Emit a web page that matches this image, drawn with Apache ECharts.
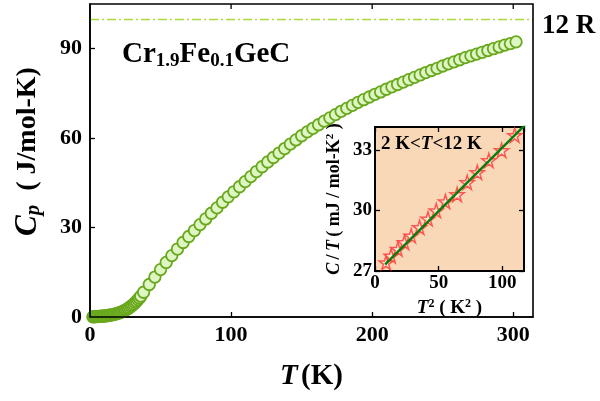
<!DOCTYPE html>
<html>
<head>
<meta charset="utf-8">
<script src="https://cdn.jsdelivr.net/npm/echarts@6/dist/echarts.min.js"></script>
<style>
  html, body { margin: 0; padding: 0; background: #fff; }
  #chart { width: 600px; height: 401px; }
</style>
</head>
<body>
<div id="chart"></div>
<script>
// Specific heat of Cr1.9Fe0.1GeC versus temperature
const temperatureK = [
  2, 3, 4, 5, 6, 7, 8, 9, 10, 11, 12, 13, 14, 15, 16, 17, 18, 19, 20,
  21, 22, 23, 24, 25, 26, 27, 28, 29, 30, 31, 32, 33, 34, 35, 36,
  38, 42, 46, 50, 54, 58, 62, 66, 70, 74, 78, 82, 86, 90, 94, 98,
  102, 106, 110, 114, 118, 122, 126, 130, 134, 138, 142, 146, 150,
  154, 158, 162, 166, 170, 174, 178, 182, 186, 190, 194, 198, 202,
  206, 210, 214, 218, 222, 226, 230, 234, 238, 242, 246, 250, 254,
  258, 262, 266, 270, 274, 278, 282, 286, 290, 294, 298, 302
];
const heatCapacity = [
  0.05, 0.08, 0.11, 0.14, 0.18, 0.22, 0.26, 0.29, 0.33, 0.38, 0.44, 0.51, 0.59, 0.68, 0.78, 0.89, 1.01, 1.14, 1.28,
  1.45, 1.63, 1.83, 2.05, 2.3, 2.57, 2.87, 3.2, 3.56, 3.95, 4.37, 4.82, 5.3, 5.82, 6.38, 6.98,
  8.3, 10.9, 13.4, 15.9, 18.3, 20.6, 22.8, 25.0, 27.0, 29.0, 31.0, 32.9, 34.8, 36.6, 38.5, 40.3,
  42.0, 43.7, 45.4, 47.1, 48.8, 50.4, 52.0, 53.5, 55.0, 56.5, 58.0, 59.4, 60.8,
  62.1, 63.3, 64.5, 65.7, 66.8, 67.9, 69.0, 70.0, 71.0, 72.0, 72.9, 73.8, 74.7,
  75.5, 76.4, 77.2, 78.0, 78.8, 79.6, 80.4, 81.2, 82.0, 82.7, 83.4, 84.2, 84.9,
  85.6, 86.3, 87.0, 87.6, 88.2, 88.8, 89.4, 90.0, 90.6, 91.2, 91.7, 92.3
];
// Dulong–Petit limit 3NR (N = 4 atoms per formula unit), drawn across the full T range
const limitT = [0, 314];
const limitCp = [99.8, 99.8];

// Low-temperature C/T against T^2 (2 K < T < 12 K)
const tSquared = [8.7, 12.6, 17.9, 23.1, 28.4, 35.0, 41.6, 48.1, 55.3, 64.5, 72.4, 80.3, 89.4, 99.4, 109.7];
const cOverT = [27.42, 27.75, 28.09, 28.42, 28.75, 29.17, 29.59, 30.0, 30.45, 30.8, 31.4, 31.9, 32.49, 32.99, 33.74];
// Linear fit C/T = gamma + beta*T^2
const fitT2 = [8, 118];
const fitCT = [27.33, 34.26];

// Axis ranges and tick values of the main panel
const tMax = 314;
const cpMax = 105;
const tTicks = [100, 200, 300];

const serif = '"Liberation Serif", "DejaVu Serif", serif';
const starPath = 'path://M50,0 L61,35 L98,35 L68,57 L79,91 L50,70 L21,91 L32,57 L2,35 L39,35 Z';

const chart = echarts.init(document.getElementById('chart'), null, { renderer: 'canvas' });

// fresh style objects for every axis
const axisLine = (w) => ({ show: true, onZero: false, lineStyle: { color: '#000', width: w } });
const tick = () => ({ show: true, inside: true, length: 5, lineStyle: { color: '#000', width: 1.3 } });
const noLabel = () => ({ show: false });
const noSplit = () => ({ show: false });

chart.setOption({
  animation: false,
  backgroundColor: '#fff',
  grid: [
    { left: 90, right: 67, top: 4, bottom: 84, show: false, outerBoundsMode: 'none' },
    { left: 375, top: 127, width: 149, height: 144, show: true, outerBoundsMode: 'none',
      backgroundColor: '#f9d8b8', borderColor: '#000', borderWidth: 2 }
  ],
  xAxis: [
    {
      gridIndex: 0, type: 'value', position: 'bottom', min: 0, max: tMax, interval: 100,
      axisLine: axisLine(1.6), axisTick: tick(), splitLine: noSplit(),
      axisLabel: { color: '#000', fontFamily: serif, fontWeight: 'bold', fontSize: 22, margin: 7, showMaxLabel: false },
      name: '{i|T} {n|(K)}', nameLocation: 'middle', nameGap: 45,
      nameTextStyle: {
        rich: {
          i: { fontFamily: serif, fontWeight: 'bold', fontStyle: 'italic', fontSize: 29, color: '#000' },
          n: { fontFamily: serif, fontWeight: 'bold', fontSize: 29, color: '#000' }
        }
      }
    },
    {
      gridIndex: 1, type: 'value', position: 'bottom', min: 0, max: 117, interval: 50,
      axisLine: axisLine(2), axisTick: tick(), splitLine: noSplit(),
      axisLabel: { color: '#000', fontFamily: serif, fontWeight: 'bold', fontSize: 19, margin: 3, showMaxLabel: false },
      name: '{i|T}{s|2}{n| ( K}{s|2}{n| )}', nameLocation: 'middle', nameGap: 27,
      nameTextStyle: {
        rich: {
          i: { fontFamily: serif, fontWeight: 'bold', fontStyle: 'italic', fontSize: 19, color: '#000' },
          n: { fontFamily: serif, fontWeight: 'bold', fontSize: 19, color: '#000' },
          s: { fontFamily: serif, fontWeight: 'bold', fontSize: 12, color: '#000', verticalAlign: 'top', padding: [0, 0, 8, 0] }
        }
      }
    },
    {
      gridIndex: 1, type: 'value', position: 'top', min: 0, max: 117, interval: 50,
      axisLine: axisLine(2), axisTick: tick(), axisLabel: noLabel(), splitLine: noSplit()
    }
  ],
  yAxis: [
    {
      gridIndex: 0, type: 'value', position: 'left', min: 0, max: cpMax, interval: 30,
      axisLine: axisLine(1.6), axisTick: tick(), splitLine: noSplit(),
      axisLabel: { color: '#000', fontFamily: serif, fontWeight: 'bold', fontSize: 22, margin: 8, showMaxLabel: false },
      name: '{g|}{i|C}{s|p}{n|  ( J/mol-K)}', nameLocation: 'middle', nameGap: 46, nameRotate: 90,
      nameTextStyle: {
        rich: {
          g: { width: 18 },
          i: { fontFamily: serif, fontWeight: 'bold', fontStyle: 'italic', fontSize: 31, color: '#000' },
          s: { fontFamily: serif, fontWeight: 'bold', fontStyle: 'italic', fontSize: 21, color: '#000', verticalAlign: 'bottom', padding: [12, 0, 0, 0] },
          n: { fontFamily: serif, fontWeight: 'bold', fontSize: 28, color: '#000' }
        }
      }
    },
    {
      gridIndex: 1, type: 'value', position: 'left', min: 27, max: 34.15, interval: 3,
      axisLine: axisLine(2), axisTick: tick(), splitLine: noSplit(),
      axisLabel: { color: '#000', fontFamily: serif, fontWeight: 'bold', fontSize: 19, margin: 3, showMaxLabel: false },
      name: '{i|C} {n|/} {i|T} {n|( mJ / mol-K}{s|2}{n| )}', nameLocation: 'middle', nameGap: 31, nameRotate: 90,
      nameTextStyle: {
        rich: {
          i: { fontFamily: serif, fontWeight: 'bold', fontStyle: 'italic', fontSize: 18, color: '#000' },
          n: { fontFamily: serif, fontWeight: 'bold', fontSize: 18, color: '#000' },
          s: { fontFamily: serif, fontWeight: 'bold', fontSize: 11, color: '#000', verticalAlign: 'top', padding: [0, 0, 8, 0] }
        }
      }
    },
    {
      gridIndex: 1, type: 'value', position: 'right', min: 27, max: 34.15, interval: 3,
      axisLine: axisLine(2), axisTick: tick(), axisLabel: noLabel(), splitLine: noSplit()
    }
  ],
  series: [
    {
      type: 'line', xAxisIndex: 0, yAxisIndex: 0,
      data: limitT.map((t, i) => [t, limitCp[i]]),
      symbol: 'none', silent: true,
      lineStyle: { color: '#a8dc3c', width: 1.3, type: [9, 3, 2, 3] },
      z: 60
    },
    {
      type: 'scatter', xAxisIndex: 0, yAxisIndex: 0, clip: false,
      data: temperatureK.map((t, i) => [t, heatCapacity[i]]),
      symbol: 'circle', symbolSize: 11.5,
      itemStyle: { color: '#ddf6c4', borderColor: '#69a81c', borderWidth: 1.8, opacity: 1 },
      z: 3
    },
    {
      type: 'scatter', xAxisIndex: 1, yAxisIndex: 1,
      data: tSquared.map((t2, i) => [t2, cOverT[i]]),
      symbol: starPath, symbolSize: 14,
      itemStyle: { color: 'rgba(255,250,245,0.6)', borderColor: '#ff3434', borderWidth: 1.5 },
      z: 4
    },
    {
      type: 'line', xAxisIndex: 1, yAxisIndex: 1, clip: true,
      data: fitT2.map((t2, i) => [t2, fitCT[i]]),
      symbol: 'none',
      lineStyle: { color: '#0b7d0b', width: 2.5 },
      z: 5
    }
  ]
});

// Main-panel frame and top ticks, placed through the panel's own coordinate system
const corner0 = chart.convertToPixel({ gridIndex: 0 }, [0, cpMax]);
const corner1 = chart.convertToPixel({ gridIndex: 0 }, [tMax, 0]);
const frameElements = [
  {
    type: 'rect', z: 100, silent: true,
    shape: { x: corner0[0], y: corner0[1], width: corner1[0] - corner0[0], height: corner1[1] - corner0[1] },
    style: { fill: 'none', stroke: '#000', lineWidth: 1.6 }
  }
].concat(tTicks.map((t) => {
  const px = chart.convertToPixel({ gridIndex: 0 }, [t, cpMax]);
  return {
    type: 'line', z: 100, silent: true,
    shape: { x1: px[0], y1: px[1], x2: px[0], y2: px[1] + 5 },
    style: { stroke: '#000', lineWidth: 1.3 }
  };
}));

chart.setOption({
  graphic: frameElements.concat([
    {
      type: 'text', left: 122, top: 40, z: 10,
      style: {
        text: '{b|Cr}{s|1.9}{b|Fe}{s|0.1}{b|GeC}',
        rich: {
          b: { fontFamily: serif, fontWeight: 'bold', fontSize: 29, fill: '#000' },
          s: { fontFamily: serif, fontWeight: 'bold', fontSize: 19, fill: '#000', verticalAlign: 'bottom', padding: [13, 0, 0, 0] }
        }
      }
    },
    {
      type: 'text', left: 542, top: 13, z: 10,
      style: { text: '12 R', fontFamily: serif, fontWeight: 'bold', fontSize: 27, fill: '#000' }
    },
    {
      type: 'text', left: 381, top: 135, z: 10,
      style: {
        text: '{n|2 K<}{i|T}{n|<12 K}',
        rich: {
          n: { fontFamily: serif, fontWeight: 'bold', fontSize: 19, fill: '#000' },
          i: { fontFamily: serif, fontWeight: 'bold', fontStyle: 'italic', fontSize: 19, fill: '#000' }
        }
      }
    }
  ])
});
</script>
</body>
</html>
